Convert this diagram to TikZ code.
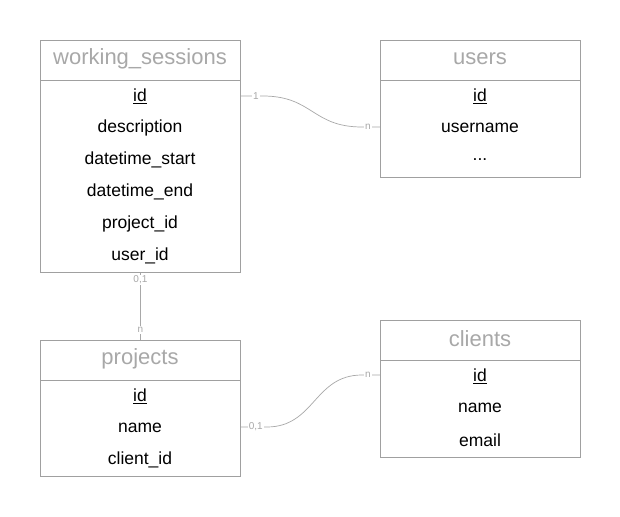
\documentclass[tikz,border=0pt]{standalone}
\usepackage{fontspec}
\setmainfont{Liberation Sans}
\usetikzlibrary{calc}
\begin{document}
\begin{tikzpicture}[x=1pt,y=-1pt,
  entity/.style={draw=boxgray, line width=0.8pt, anchor=north west, inner sep=0pt},
  title/.style={text=titlegray, font=\fontsize{22}{26}\selectfont, inner sep=0pt, yshift=-2pt},
  field/.style={text=black, font=\fontsize{17.5}{20}\selectfont, inner sep=0pt, yshift=-2pt},
  link/.style={draw=linkgray, line width=0.7pt},
  card/.style={text=linkgray, fill=white, font=\fontsize{10}{11}\selectfont, inner sep=1pt}
]
\definecolor{boxgray}{HTML}{A0A0A0}
\definecolor{titlegray}{HTML}{A8A8A8}
\definecolor{linkgray}{HTML}{A8A8A8}
\useasboundingbox[fill=white] (0,0) rectangle (620,516);

% working_sessions
\node[entity, minimum width=200pt, minimum height=232pt] (ws) at (40,40) {};
\draw[boxgray, line width=0.8pt] (40,80) -- (240,80);
\node[title] (wsT) at (140,57) {working\_sessions};
\node[field] (wsId) at (140,94) {\underline{id}};
\node[field] (wsDesc) at (140,126) {description};
\node[field] (wsStart) at (140,158) {datetime\_start};
\node[field] (wsEnd) at (140,190) {datetime\_end};
\node[field] (wsProj) at (140,222) {project\_id};
\node[field] (wsUser) at (140,254) {user\_id};

% users
\node[entity, minimum width=200pt, minimum height=137pt] (us) at (380,40) {};
\draw[boxgray, line width=0.8pt] (380,80) -- (580,80);
\node[title] (usT) at (480,57) {users};
\node[field] (usId) at (480,94) {\underline{id}};
\node[field] (usName) at (480,126) {username};
\node[field] (usMore) at (480,158) {...};

% projects
\node[entity, minimum width=200pt, minimum height=136pt] (pr) at (40,340) {};
\draw[boxgray, line width=0.8pt] (40,380) -- (240,380);
\node[title] (prT) at (140,357) {projects};
\node[field] (prId) at (140,394) {\underline{id}};
\node[field] (prName) at (140,426) {name};
\node[field] (prClient) at (140,458) {client\_id};

% clients
\node[entity, minimum width=200pt, minimum height=137pt] (cl) at (380,320) {};
\draw[boxgray, line width=0.8pt] (380,360) -- (580,360);
\node[title] (clT) at (480,337) {clients};
\node[field] (clId) at (480,374) {\underline{id}};
\node[field] (clName) at (480,406) {name};
\node[field] (clMail) at (480,438) {email};

% relationship end points on the box borders
\coordinate (wsR) at (ws.east |- 0,96);
\coordinate (usL) at (us.west |- 0,127);
\coordinate (wsB) at (ws.south);
\coordinate (prTop) at (pr.north);
\coordinate (prR) at (pr.east |- 0,427);
\coordinate (clL) at (cl.west |- 0,375);

% working_sessions -- users
\draw[link] (wsR) -- ++(22,0) .. controls +(50,0) and ($(usL)+(-68,0)$) .. ($(usL)+(-18,0)$) -- (usL);
\node[card] (c1) at ($(wsR)+(15,0)$) {1};
\node[card] (c2) at ($(usL)+(-12,0)$) {n};

% working_sessions -- projects
\draw[link] (wsB) -- (prTop);
\node[card] (c3) at ($(wsB)+(0,7)$) {0,1};
\node[card] (c4) at ($(prTop)+(0,-10)$) {n};

% projects -- clients
\draw[link] (prR) -- ++(26,0) .. controls +(48,0) and ($(clL)+(-66,0)$) .. ($(clL)+(-18,0)$) -- (clL);
\node[card] (c5) at ($(prR)+(15,0)$) {0,1};
\node[card] (c6) at ($(clL)+(-12,0)$) {n};
\end{tikzpicture}
\end{document}
